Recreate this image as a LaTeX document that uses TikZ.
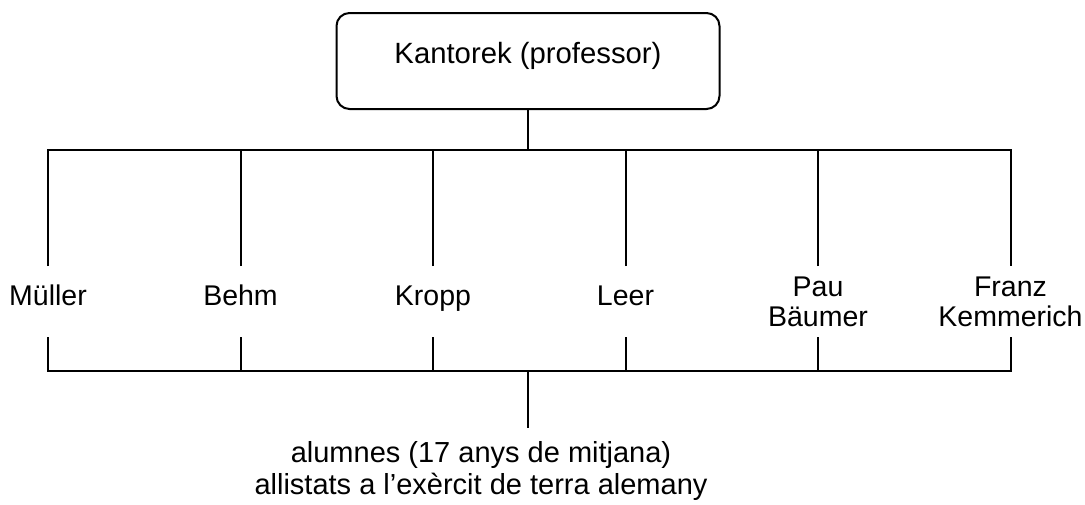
\documentclass[tikz,border=0pt]{standalone}
\usepackage{fontspec}
\setmainfont{Liberation Sans}
\begin{document}
\begin{tikzpicture}[x=1pt,y=-1pt,
  line width=2pt,
  every node/.style={font=\fontsize{28.5}{30}\selectfont, inner sep=0pt},
  topbox/.style={draw, rounded corners=13pt, minimum width=383pt, minimum height=96pt, text height=20pt, text depth=16pt, font=\fontsize{29.3}{31}\selectfont},
  nameone/.style={minimum height=69pt, text height=20pt, text depth=13pt},
  nametwo/.style={minimum height=69pt, align=center},
  bottomtext/.style={align=center, anchor=north, inner ysep=12.8pt, font=\fontsize{29}{32}\selectfont}
]
\useasboundingbox (0,0) rectangle (1085,504);
\node[topbox] (kantorek) at (528,61) {Kantorek (professor)};
\node[nameone] (muller) at (48,301.5) {Müller};
\node[nameone] (behm) at (240.5,301.5) {Behm};
\node[nameone] (kropp) at (433,301.5) {Kropp};
\node[nameone] (leer) at (625.5,301.5) {Leer};
\node[nametwo] (baumer) at (818,301.5) {Pau\\Bäumer};
\node[nametwo] (kemmerich) at (1010.5,301.5) {Franz\\Kemmerich};
\coordinate (tj) at (528,150);
\coordinate (bj) at (528,371);
\node[bottomtext] (alumnes) at (481,428) {alumnes (17 anys de mitjana)\\allistats a l’exèrcit de terra alemany};
% top connectors
\draw (kantorek.south) -- (tj);
\draw (muller.north) |- (tj) -| (kemmerich.north);
\foreach \n in {behm,kropp,leer,baumer}
  \draw (\n.north) -- (\n.north |- tj);
% bottom connectors
\draw (muller.south) |- (bj) -| (kemmerich.south);
\foreach \n in {behm,kropp,leer,baumer}
  \draw (\n.south) -- (\n.south |- bj);
\draw (bj) -- (bj |- alumnes.north);
\end{tikzpicture}
\end{document}
